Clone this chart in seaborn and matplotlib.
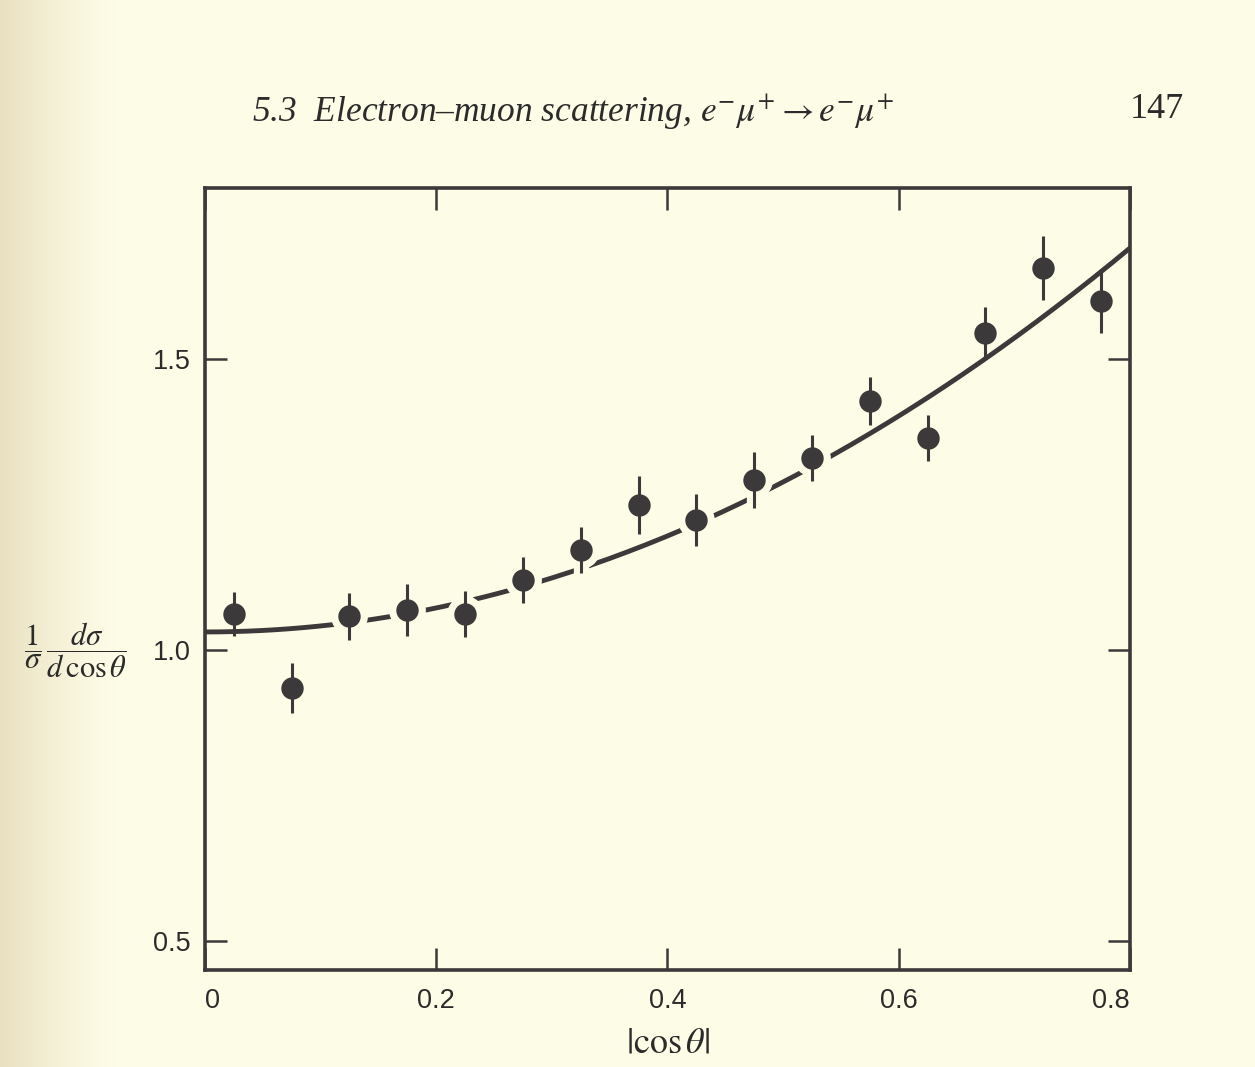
import numpy as np
import pandas as pd
import matplotlib
matplotlib.use("Agg")
import matplotlib.pyplot as plt
import seaborn as sns

cos_bins = [0.025, 0.075, 0.125, 0.175, 0.225, 0.275, 0.325, 0.375,
            0.425, 0.475, 0.525, 0.575, 0.625, 0.675, 0.725, 0.775]
dsigma = [1.062, 0.935, 1.058, 1.069, 1.062, 1.120, 1.172, 1.249,
          1.223, 1.292, 1.330, 1.428, 1.364, 1.545, 1.656, 1.600]
dsigma_err = [0.038, 0.043, 0.040, 0.045, 0.040, 0.040, 0.040, 0.050,
              0.045, 0.048, 0.040, 0.042, 0.040, 0.045, 0.055, 0.055]
# points where the printed curve is broken around the marker
curve_gap = [False, False, True, True, True, True, True, True,
             True, True, True, False, False, False, False, False]

# theory: 1 + cos^2(theta), normalised
curve_norm = 1.031
x_ticks = [0, 0.2, 0.4, 0.6, 0.8]
x_ticklabels = ["0", "0.2", "0.4", "0.6", "0.8"]
y_ticks = [0.5, 1.0, 1.5]
y_ticklabels = ["0.5", "1.0", "1.5"]

df = pd.DataFrame({"cos": cos_bins, "val": dsigma, "err": dsigma_err, "gap": curve_gap})
xs = np.linspace(0, 0.8, 200)
theory = pd.DataFrame({"cos": xs, "val": curve_norm * (1 + xs ** 2)})

paper = "#fdfce6"
ink = "#3b3939"
text_ink = "#2b2b2b"

sns.set_style("ticks")
plt.rcParams["mathtext.fontset"] = "stix"
plt.rcParams["font.family"] = ["Liberation Sans", "DejaVu Sans"]

fig = plt.figure(figsize=(12.55, 10.67), dpi=100, facecolor=paper)

# shaded gutter on the left of the scan
bg = fig.add_axes([0, 0, 1, 1], zorder=-10)
grad = np.linspace(0, 1, 1255)
shade = np.clip(1 - grad * 11, 0, 1) ** 1.3
r = 253 - 20 * shade
g = 252 - 28 * shade
b = 230 - 38 * shade
img = np.dstack([r, g, b]) / 255.0
bg.imshow(img, aspect="auto", extent=[0, 1, 0, 1])
bg.axis("off")

ax = fig.add_axes([0.1633, 0.0909, 0.7371, 0.7329])
ax.set_facecolor("none")

sns.lineplot(data=theory, x="cos", y="val", ax=ax, color=ink, lw=3.5, zorder=2)

# halo in paper colour to break the curve around some points
gp = df[df["gap"]]
ax.errorbar(gp["cos"], gp["val"], yerr=gp["err"] + 0.004, fmt="none",
            ecolor=paper, elinewidth=11, capsize=0, zorder=3)
ax.scatter(gp["cos"], gp["val"], s=700, color=paper, linewidths=0, zorder=3)

ax.errorbar(df["cos"], df["val"], yerr=df["err"], fmt="none",
            ecolor=ink, elinewidth=2.2, capsize=0, zorder=4)
sns.scatterplot(data=df, x="cos", y="val", ax=ax, s=260, color=ink,
                edgecolor=ink, linewidth=0, zorder=5)

ax.set_xlim(0, 0.8)
ax.set_ylim(0.45, 1.794)
ax.set_xticks(x_ticks)
ax.set_xticklabels(x_ticklabels)
ax.set_yticks(y_ticks)
ax.set_yticklabels(y_ticklabels)
ax.tick_params(direction="in", length=16, width=1.8, colors=ink,
               top=True, right=True, labelsize=19.5, labelcolor=text_ink)
ax.tick_params(axis="x", pad=13)
ax.tick_params(axis="y", pad=10)
# end labels sit inside the frame as in the print
xlabels = ax.get_xticklabels()
xlabels[0].set_ha("left")
xlabels[-1].set_ha("right")
for s in ax.spines.values():
    s.set_linewidth(2.6)
    s.set_color(ink)

ax.set_xlabel(r"$|\cos\theta|$", fontsize=26, color=text_ink, labelpad=8)
ax.set_ylabel("")

fig.text(24 / 1255, 1 - 650 / 1067,
         r"$\dfrac{1}{\sigma}\,\dfrac{d\sigma}{d\,\cos\theta}$",
         fontsize=22, color=text_ink, ha="left", va="center")

fig.text(252 / 1255, 1 - 112 / 1067,
         r"5.3  Electron–muon scattering, $e^{-}\mu^{+} \rightarrow e^{-}\mu^{+}$",
         family=["Liberation Serif", "DejaVu Serif"], style="italic",
         fontsize=25.5, color=text_ink, ha="left", va="center")
fig.text(1184 / 1255, 1 - 110 / 1067, "147",
         family=["Liberation Serif", "DejaVu Serif"],
         fontsize=26, color=text_ink, ha="right", va="center")

fig.savefig("out.png", dpi=100, facecolor=paper)
